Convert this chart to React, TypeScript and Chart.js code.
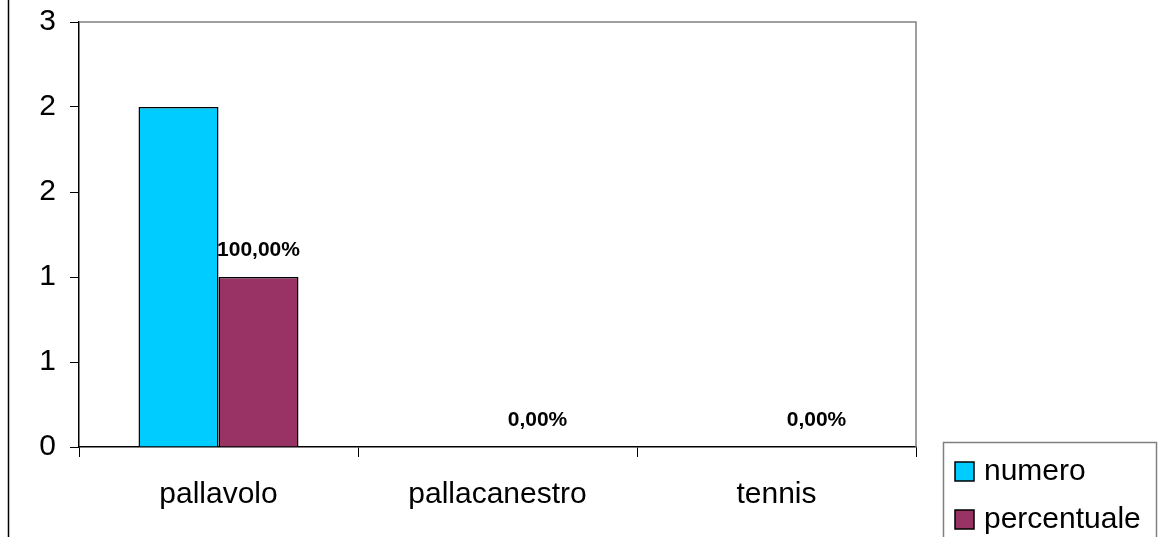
import React, { useEffect, useRef } from "react";
import { Chart, registerables } from "chart.js";

Chart.register(...registerables);

const categories = ["pallavolo", "pallacanestro", "tennis"];
const numeroValues = [2, 0, 0];
const percentualeValues = [1, 0, 0];
const seriesNames = ["numero", "percentuale"];
const seriesColors = ["#00CCFF", "#993366"];
const yMin = 0;
const yMax = 2.5;
const yStep = 0.5;

const FONT = "'Liberation Sans', Arial, sans-serif";

const decorPlugin = {
  id: "decor",
  afterDraw(chart: any) {
    const ctx = chart.ctx;
    const a = chart.chartArea;
    ctx.save();
    // outer left line
    ctx.strokeStyle = "#000";
    ctx.lineWidth = 1.5;
    ctx.beginPath();
    ctx.moveTo(8.5, 0);
    ctx.lineTo(8.5, chart.height);
    ctx.stroke();
    // plot area top and right border
    ctx.strokeStyle = "#808080";
    ctx.lineWidth = 1.5;
    ctx.beginPath();
    ctx.moveTo(a.left, a.top);
    ctx.lineTo(a.right, a.top);
    ctx.lineTo(a.right, a.bottom);
    ctx.stroke();
    // data labels on percentuale series
    const meta = chart.getDatasetMeta(1);
    ctx.fillStyle = "#000";
    ctx.font = "bold 21px " + FONT;
    ctx.textAlign = "center";
    ctx.textBaseline = "middle";
    meta.data.forEach((bar: any, i: number) => {
      const v = chart.data.datasets[1].data[i] as number;
      const txt = (v * 100).toFixed(2).replace(".", ",") + "%";
      ctx.fillText(txt, bar.x, bar.y - 27);
    });
    // legend box
    const lx = 943;
    const ly = 442;
    ctx.strokeStyle = "#808080";
    ctx.lineWidth = 1.5;
    ctx.strokeRect(lx + 0.5, ly + 0.5, 1156 - lx, 120);
    ctx.font = "30px " + FONT;
    ctx.textAlign = "left";
    ctx.textBaseline = "middle";
    chart.data.datasets.forEach((ds: any, i: number) => {
      const cy = 472 + i * 48;
      ctx.fillStyle = ds.backgroundColor;
      ctx.fillRect(955, cy - 10, 19, 19);
      ctx.strokeStyle = "#000";
      ctx.lineWidth = 1.5;
      ctx.strokeRect(955, cy - 10, 19, 19);
      ctx.fillStyle = "#000";
      ctx.fillText(ds.label, 984, cy);
    });
    ctx.restore();
  },
};

export default function App() {
  const ref = useRef<HTMLCanvasElement>(null);
  useEffect(() => {
    if (!ref.current) return;
    const chart = new Chart(ref.current, {
      type: "bar",
      data: {
        labels: categories,
        datasets: [
          {
            label: seriesNames[0],
            data: numeroValues,
            backgroundColor: seriesColors[0],
            borderColor: "#000",
            borderWidth: 1.5,
            categoryPercentage: 160 / 279,
            barPercentage: 1,
          },
          {
            label: seriesNames[1],
            data: percentualeValues,
            backgroundColor: seriesColors[1],
            borderColor: "#000",
            borderWidth: 1.5,
            categoryPercentage: 160 / 279,
            barPercentage: 1,
          },
        ],
      },
      options: {
        responsive: false,
        animation: false,
        maintainAspectRatio: false,
        layout: { padding: { top: 22, right: 242, left: 0, bottom: 0 } },
        plugins: {
          legend: { display: false },
          tooltip: { enabled: false },
        },
        scales: {
          x: {
            afterFit: (s: any) => {
              s.height = 90;
              s.paddingLeft = 0;
              s.paddingRight = 0;
            },
            grid: {
              offset: true,
              drawOnChartArea: false,
              drawTicks: true,
              tickLength: 10,
              color: "#000",
            },
            border: { display: true, color: "#000", width: 1.5 },
            ticks: {
              color: "#000",
              font: { family: FONT, size: 30 },
              padding: 20,
              maxRotation: 0,
            },
          },
          y: {
            min: yMin,
            max: yMax,
            afterFit: (s: any) => {
              s.width = 79;
              s.paddingTop = 0;
              s.paddingBottom = 0;
            },
            grid: {
              drawOnChartArea: false,
              drawTicks: true,
              tickLength: 9,
              color: "#000",
            },
            border: { display: true, color: "#000", width: 1.5 },
            ticks: {
              stepSize: yStep,
              color: "#000",
              font: { family: FONT, size: 30 },
              padding: 14,
              callback: (v: any) => String(Math.round(Number(v))),
            },
          },
        },
      },
      plugins: [decorPlugin],
    });
    return () => chart.destroy();
  }, []);
  return (
    <div style={{ position: "absolute", left: 0, top: 0, width: 1158, height: 537, background: "#fff" }}>
      <canvas ref={ref} width={1158} height={537} style={{ display: "block" }} />
    </div>
  );
}
